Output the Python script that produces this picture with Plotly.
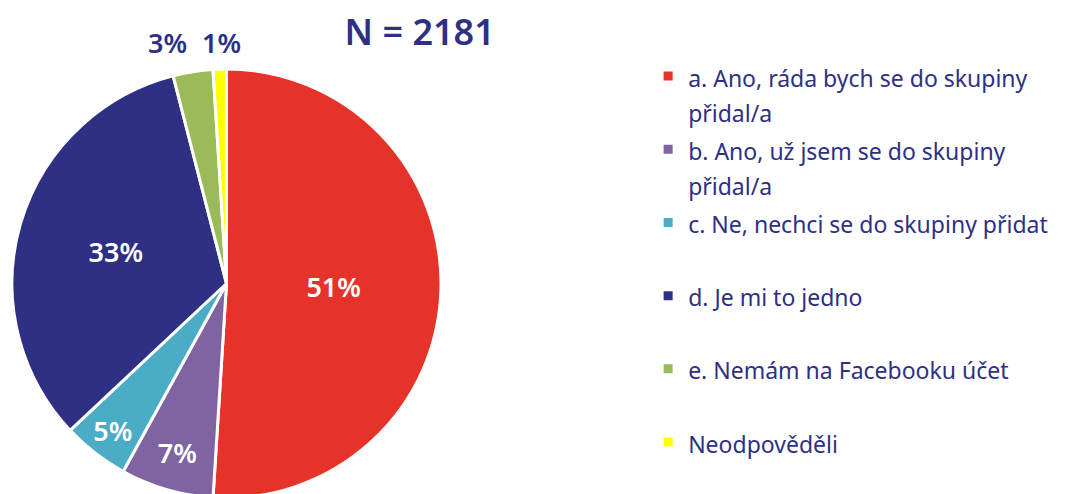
import plotly.graph_objects as go

labels = [
    "a. Ano, ráda bych se do skupiny<br>přidal/a",
    "b. Ano, už jsem se do skupiny<br>přidal/a",
    "c. Ne, nechci se do skupiny přidat<br> ",
    "d. Je mi to jedno<br> ",
    "e. Nemám na Facebooku účet<br> ",
    "Neodpověděli<br> ",
]
values = [51, 7, 5, 33, 3, 1]
colors = ["#e5332a", "#8064a2", "#4bacc6", "#2e3084", "#9bbb59", "#ffff00"]
# small slices get their labels above the pie, like in the source chart
text_pos = ["inside", "inside", "inside", "inside", "none", "none"]

NAVY = "#2e3083"
FONT = "Noto Sans"

fig = go.Figure(
    go.Pie(
        labels=[f"<span style='font-size:23px'>{lb}</span>" for lb in labels],
        values=values,
        sort=False,
        direction="clockwise",
        rotation=0,
        marker=dict(colors=colors, line=dict(color="white", width=3)),
        textinfo="percent",
        texttemplate="%{percent:.0%}",
        textposition=text_pos,
        insidetextfont=dict(family=FONT, size=27, color="white", weight=600),
        insidetextorientation="horizontal",
        domain=dict(x=[0, 0.408], y=[0.0088, 0.9537]),
        hoverinfo="label+percent",
    )
)

# labels of the two small slices, placed above the pie
small_x = [0.1485, 0.1995]
for i, xx in zip([4, 5], small_x):
    fig.add_annotation(
        x=xx, y=1.013, xref="paper", yref="paper",
        xanchor="center", yanchor="middle",
        text=f"{values[i]}%", showarrow=False,
        font=dict(family=FONT, size=27, color=NAVY, weight=600),
    )

fig.update_layout(
    width=1071,
    height=494,
    paper_bgcolor="white",
    plot_bgcolor="white",
    margin=dict(l=0, r=0, t=40, b=0),
    font=dict(family=FONT, color=NAVY),
    title=dict(
        text="N = 2181",
        x=0.3844,
        xanchor="center",
        y=0.95,
        yanchor="middle",
        font=dict(family=FONT, size=36, color=NAVY, weight=600),
    ),
    showlegend=True,
    legend=dict(
        x=0.5977,
        y=0.991,
        xanchor="left",
        yanchor="top",
        valign="top",
        font=dict(family=FONT, size=27, color=NAVY),
        bgcolor="rgba(0,0,0,0)",
        itemwidth=30,
    ),
)

fig.write_html("out.html")
